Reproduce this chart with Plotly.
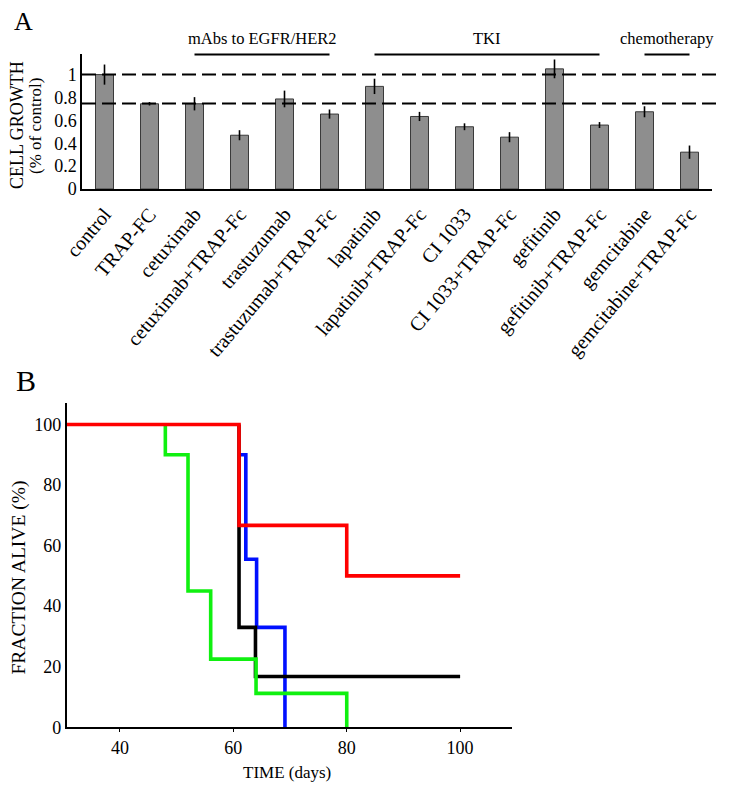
import plotly.graph_objects as go

# ---------------- Panel A data ----------------
categories = ["control", "TRAP-FC", "cetuximab", "cetuximab+TRAP-Fc", "trastuzumab",
              "trastuzumab+TRAP-Fc", "lapatinib", "lapatinib+TRAP-Fc", "CI 1033",
              "CI 1033+TRAP-Fc", "gefitinib", "gefitinib+TRAP-Fc", "gemcitabine",
              "gemcitabine+TRAP-Fc"]
growth = [1.0, 0.745, 0.745, 0.47, 0.787, 0.655, 0.897, 0.634, 0.544, 0.453, 1.05, 0.559, 0.675, 0.322]
growth_err = [0.088, 0.015, 0.058, 0.044, 0.073, 0.04, 0.067, 0.04, 0.03, 0.044, 0.082, 0.026, 0.048, 0.058]
reference_levels = [1.0, 0.748]
group_names = ["mAbs to EGFR/HER2", "TKI", "chemotherapy"]
group_start = [2, 6, 12]
group_end = [5, 11, 13]
a_yticks = [0, 0.2, 0.4, 0.6, 0.8, 1]
a_yticklabels = ["0", "0.2", "0.4", "0.6", "0.8", "1"]

# ---------------- Panel B data ----------------
red_t = [30, 61, 80, 100]
red_s = [100, 66.7, 50, 50]
green_t = [48, 48, 52, 56, 64, 80]
green_s = [100, 90, 45, 22.5, 11.2, 0]
blue_t = [61.2, 62.2, 64.1, 69.1]
blue_s = [90, 55.5, 33, 0]
black_t = [61, 61, 63.9, 100]
black_s = [100, 33, 16.8, 16.8]
b_xticks = [40, 60, 80, 100]
b_yticks = [0, 20, 40, 60, 80, 100]

FONT = "Liberation Serif"
OFF = 8  # page body margin in the browser
W, H = 729 - OFF, 789 - OFF

def px_x(p):
    return (p - OFF) / W

def px_y(p):
    return 1 - (p - OFF) / H

fig = go.Figure()

fig.add_trace(go.Bar(
    x=categories, y=growth, width=0.4,
    marker=dict(color="#8e8e8e", line=dict(color="#3a3a3a", width=1)),
    error_y=dict(type="data", array=growth_err, color="black", thickness=1.6, width=0),
    xaxis="x", yaxis="y", showlegend=False,
))

for t, s, c in [(blue_t, blue_s, "#0010ff"), (black_t, black_s, "#000000"),
                (green_t, green_s, "#10f010"), (red_t, red_s, "#ff0000")]:
    fig.add_trace(go.Scatter(x=t, y=s, mode="lines", line=dict(color=c, width=3.6, shape="hv"),
                             xaxis="x2", yaxis="y2", showlegend=False))

shapes = []
for lvl in reference_levels:
    shapes.append(dict(type="line", xref="paper", yref="y", x0=px_x(82), x1=px_x(716), y0=lvl, y1=lvl,
                       line=dict(color="black", width=2, dash="14px,6px")))
annotations = []
for name, s0, s1 in zip(group_names, group_start, group_end):
    shapes.append(dict(type="line", xref="x", yref="paper", x0=s0, x1=s1, y0=px_y(54.5), y1=px_y(54.5),
                       line=dict(color="black", width=1.8)))
    annotations.append(dict(text=name, xref="x", yref="paper", x=(s0 + s1) / 2, y=px_y(39),
                            showarrow=False, xanchor="center", yanchor="middle",
                            font=dict(family=FONT, size=16.5, color="black")))

annotations += [
    dict(text="A", xref="paper", yref="paper", x=px_x(23), y=px_y(21), showarrow=False,
         xanchor="center", yanchor="middle", font=dict(family=FONT, size=26, color="black")),
    dict(text="B", xref="paper", yref="paper", x=px_x(26), y=px_y(380), showarrow=False,
         xanchor="center", yanchor="middle", font=dict(family=FONT, size=30, color="black")),
    dict(text="CELL GROWTH", xref="paper", yref="paper", x=px_x(17), y=px_y(125), showarrow=False,
         textangle=-90, xanchor="center", yanchor="middle", font=dict(family=FONT, size=18, color="black")),
    dict(text="(% of control)", xref="paper", yref="paper", x=px_x(35), y=px_y(126), showarrow=False,
         textangle=-90, xanchor="center", yanchor="middle", font=dict(family=FONT, size=17, color="black")),
    dict(text="FRACTION ALIVE (%)", xref="paper", yref="paper", x=px_x(18.5), y=px_y(578), showarrow=False,
         textangle=-90, xanchor="center", yanchor="middle", font=dict(family=FONT, size=19.5, color="black")),
    dict(text="TIME (days)", xref="paper", yref="paper", x=px_x(287), y=px_y(772), showarrow=False,
         xanchor="center", yanchor="middle", font=dict(family=FONT, size=17, color="black")),
]

axis_common = dict(showgrid=False, zeroline=False, showline=True, linecolor="black", linewidth=1.5,
                   automargin=False)

fig.update_layout(
    template="none",
    width=W, height=H,
    margin=dict(l=0, r=0, t=0, b=0, pad=0),
    paper_bgcolor="white", plot_bgcolor="white",
    font=dict(family=FONT, color="black"),
    showlegend=False,
    shapes=shapes, annotations=annotations,
    xaxis=dict(domain=[px_x(82), px_x(712)], anchor="y", type="category",
               range=[-0.5, len(categories) - 0.5], tickangle=-50, ticks="", ticklabelstandoff=4,
               tickfont=dict(family=FONT, size=20, color="black"), **axis_common),
    yaxis=dict(domain=[px_y(189), px_y(54)], anchor="x", range=[0, 1.18],
               tickvals=a_yticks, ticktext=a_yticklabels, ticks="",
               tickfont=dict(family=FONT, size=18, color="black"), **axis_common),
    xaxis2=dict(domain=[px_x(66.7), px_x(511.7)], anchor="y2", range=[30.6, 109.1],
                tickvals=b_xticks, ticks="outside", ticklen=3, tickcolor="black",
                tickfont=dict(family=FONT, size=18, color="black"), **axis_common),
    yaxis2=dict(domain=[px_y(727.3), px_y(403.3)], anchor="x2", range=[0, 107],
                tickvals=b_yticks, ticks="",
                tickfont=dict(family=FONT, size=18, color="black"), **axis_common),
)

fig.write_html("out.html")
